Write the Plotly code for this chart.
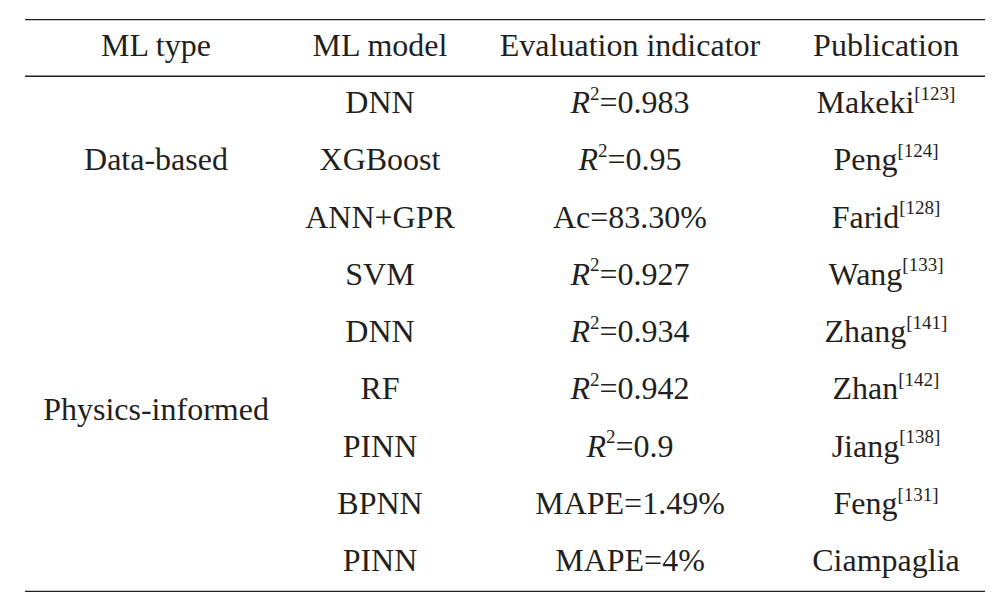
import plotly.graph_objects as go

# table content
headers = ['ML type', 'ML model', 'Evaluation indicator', 'Publication']
ml_groups = ['Data-based', 'Physics-informed']
group_sizes = [3, 6]
ml_models = ['DNN', 'XGBoost', 'ANN+GPR', 'SVM', 'DNN', 'RF', 'PINN', 'BPNN', 'PINN']
metric_names = ['R2', 'R2', 'Ac', 'R2', 'R2', 'R2', 'R2', 'MAPE', 'MAPE']
metric_values = ['0.983', '0.95', '83.30%', '0.927', '0.934', '0.942', '0.9', '1.49%', '4%']
authors = ['Makeki', 'Peng', 'Farid', 'Wang', 'Zhang', 'Zhan', 'Jiang', 'Feng', 'Ciampaglia']
refs = ['123', '124', '128', '133', '141', '142', '138', '131', '']

# layout of the table (pixels for columns, row units vertically)
col_widths = [262, 186, 314, 198]
ink = '#231f20'
font = dict(family='Liberation Serif', size=32, color=ink)
sup_css = "font-size:19px"

col_x = []
edge = 0
for w in col_widths:
    col_x.append(edge + w / 2)
    edge += w
table_w = edge

n_rows = len(ml_models)
rows = list(range(1, n_rows + 1))

# group labels sit in the middle of their merged cell
group_y = []
start = 1
for n in group_sizes:
    group_y.append(start + (n - 1) / 2)
    start += n
group_y[1] -= 0.15


def metric_label(name, value):
    if name == 'R2':
        name = f'<i>R</i><sup><span style="{sup_css}">2</span></sup>'
    return f'{name}={value}'


indicators = [metric_label(n, v) for n, v in zip(metric_names, metric_values)]
pubs = [a + (f'<sup><span style="{sup_css}">[{r}]</span></sup>' if r else '')
        for a, r in zip(authors, refs)]

fig = go.Figure()

# rules: top, under header, bottom
for yy, lw in [(-0.5, 2.6), (0.5, 1.4), (n_rows + 0.5, 2.6)]:
    fig.add_trace(go.Scatter(x=[0, table_w], y=[yy, yy], mode='lines',
                             line=dict(color=ink, width=lw), hoverinfo='skip', cliponaxis=False))

fig.add_trace(go.Scatter(x=col_x, y=[0] * len(headers), text=headers, mode='text',
                         textfont=font, textposition='middle center', cliponaxis=False))
fig.add_trace(go.Scatter(x=[col_x[0]] * len(ml_groups), y=group_y, text=ml_groups, mode='text',
                         textfont=font, textposition='middle center', cliponaxis=False))
fig.add_trace(go.Scatter(x=[col_x[1]] * n_rows, y=rows, text=ml_models, mode='text',
                         textfont=font, textposition='middle center', cliponaxis=False))
fig.add_trace(go.Scatter(x=[col_x[2]] * n_rows, y=rows, text=indicators, mode='text',
                         textfont=font, textposition='middle center', cliponaxis=False))
fig.add_trace(go.Scatter(x=[col_x[3]] * n_rows, y=rows, text=pubs, mode='text',
                         textfont=font, textposition='middle center', cliponaxis=False))

fig.update_layout(
    width=997, height=601,
    margin=dict(l=17, r=20, t=11, b=17),
    paper_bgcolor='white', plot_bgcolor='white',
    showlegend=False,
    xaxis=dict(range=[0, table_w], visible=False, fixedrange=True),
    yaxis=dict(range=[n_rows + 0.5, -0.5], visible=False, fixedrange=True),
)

fig.write_html('out.html')
